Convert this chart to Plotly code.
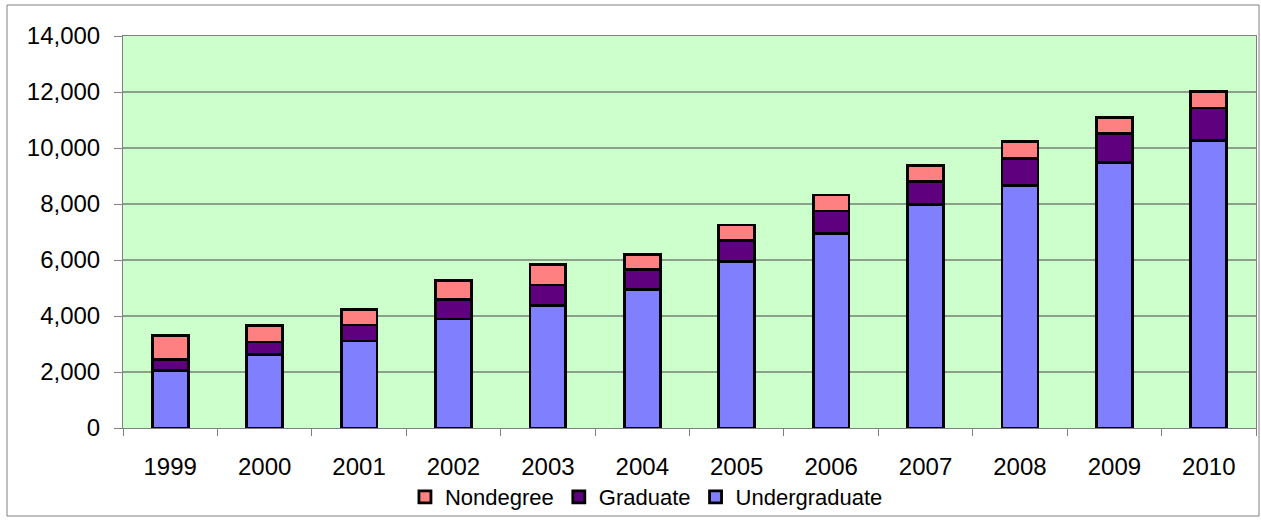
import plotly.graph_objects as go

years = ["1999", "2000", "2001", "2002", "2003", "2004", "2005", "2006", "2007", "2008", "2009", "2010"]
undergraduate = [2050, 2620, 3110, 3890, 4380, 4940, 5950, 6950, 7990, 8650, 9490, 10270]
graduate = [400, 450, 570, 710, 730, 710, 740, 800, 820, 970, 1020, 1160]
nondegree = [840, 600, 560, 660, 720, 550, 560, 570, 570, 610, 590, 600]

series = [
    ("Undergraduate", undergraduate, "#8080FF"),
    ("Graduate", graduate, "#5F007F"),
    ("Nondegree", nondegree, "#FF8080"),
]

W, H = 1261, 520
L, R, T, B = 123, 5, 36, 92

fig = go.Figure()
for name, vals, color in series:
    fig.add_trace(go.Bar(
        x=years, y=vals, name=name,
        marker=dict(color=color, line=dict(color="black", width=2.8)),
    ))

font = "Liberation Sans, Arial, sans-serif"
fig.update_layout(
    width=W, height=H,
    margin=dict(l=L, r=R, t=T, b=B, autoexpand=False),
    barmode="stack",
    bargap=0.62,
    paper_bgcolor="white",
    plot_bgcolor="#CCFFCC",
    font=dict(family=font, size=24, color="black"),
    showlegend=True,
    legend=dict(
        orientation="h", traceorder="reversed",
        x=0.462, xanchor="center", y=-0.176, yanchor="middle",
        font=dict(size=22), itemwidth=30,
        bgcolor="rgba(0,0,0,0)",
    ),
    xaxis=dict(
        type="category", tickson="boundaries", ticks="outside", ticklen=7,
        tickcolor="#808080", showline=True, linecolor="#808080", linewidth=1,
        mirror=True, showgrid=False, ticklabelstandoff=17,
    ),
    yaxis=dict(
        range=[0, 14000], dtick=2000, tickformat=",d", ticks="outside", ticklen=8,
        tickcolor="#808080", showline=True, linecolor="#808080", linewidth=1,
        mirror=True, showgrid=True, gridcolor="#8AA08A", gridwidth=1.5,
        zeroline=False, ticklabelstandoff=9,
    ),
    shapes=[dict(
        type="rect", xref="paper", yref="paper",
        x0=(7 - L) / (W - L - R), x1=(1259 - L) / (W - L - R),
        y0=-(516 - (H - B)) / (H - T - B), y1=1 + (T - 5) / (H - T - B),
        line=dict(color="#808080", width=1), fillcolor="rgba(0,0,0,0)",
        layer="below",
    )],
)

fig.write_html(
    "out.html",
    config={"displayModeBar": False},
    post_script="document.body.style.margin='0';document.body.style.overflow='hidden';",
)
